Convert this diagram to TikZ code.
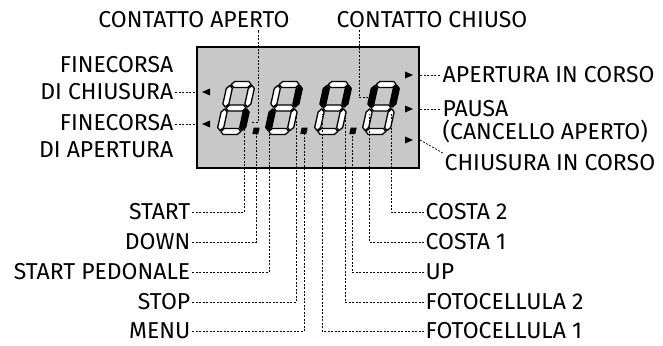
\documentclass[tikz,border=0pt]{standalone}
\usepackage{fontspec}
\setmainfont{Fira Sans}
\usetikzlibrary{calc}

\definecolor{lcdgray}{RGB}{200,200,200}

% one segment: horizontal (x1,x2,y) or vertical (x,y1,y2), last argument = style
\newcommand{\hseg}[4]{\draw[#4] (#1+1,#3) -- (#1+4,#3-3) -- (#2-4,#3-3) -- (#2-1,#3) -- (#2-4,#3+3) -- (#1+4,#3+3) -- cycle;}
\newcommand{\vseg}[4]{\draw[#4] (#1,#2+1) -- (#1+3,#2+4) -- (#1+3,#3-4) -- (#1,#3-1) -- (#1-3,#3-4) -- (#1-3,#2+4) -- cycle;}
\newcommand{\lcdsega}[1]{\hseg{-11}{11}{-23.5}{#1}}
\newcommand{\lcdsegb}[1]{\vseg{11}{-23.5}{0}{#1}}
\newcommand{\lcdsegc}[1]{\vseg{11}{0}{23.5}{#1}}
\newcommand{\lcdsegd}[1]{\hseg{-11}{11}{23.5}{#1}}
\newcommand{\lcdsege}[1]{\vseg{-11}{0}{23.5}{#1}}
\newcommand{\lcdsegf}[1]{\vseg{-11}{-23.5}{0}{#1}}
\newcommand{\lcdsegg}[1]{\hseg{-11}{11}{0}{#1}}

% digit at x = #1, unlit segments #2, lit segments #3
\newcommand{\lcddigit}[3]{%
  \begin{scope}[shift={(#1,108)}, xslant=0.22]
    \foreach \sg in {#2} {\csname lcdseg\sg\endcsname{seg}}
    \foreach \sg in {#3} {\csname lcdseg\sg\endcsname{segon}}
  \end{scope}}

\begin{document}
\begin{tikzpicture}[x=1pt, y=-1pt,
	lbl/.style={font=\fontsize{23}{27}\selectfont, inner sep=1.5pt},
	lead/.style={line width=0.7pt, dash pattern=on 2pt off 1.5pt},
	lcdbox/.style={draw, line width=2pt, fill=lcdgray, minimum width=222pt, minimum height=121pt},
	seg/.style={draw, fill=white, line width=1.3pt, line join=round},
	segon/.style={seg, fill=black}]
	\useasboundingbox (0,0) rectangle (663,345);

	% Display
	\node [lcdbox] (lcd) at (308,107.5) {};
	\lcddigit{236}{a,b,d,e,f,g}{c}
	\lcddigit{284}{a,c,d,f,g}{b,e}
	\lcddigit{333}{a,c,d,e,g}{b,f}
	\lcddigit{381}{a,c,d,e,g}{b,f}
	\foreach \x in {236,284,333}
		\fill [shift={(\x,108)}, xslant=0.22] (22,19.5) rectangle (28,26);

	% Indicators
	\coordinate (iFcChiu) at (206,92);
	\coordinate (iFcAper) at (206,124);
	\coordinate (iApe)    at (409,75);
	\coordinate (iPausa)  at (409,109);
	\coordinate (iChiu)   at (409,140);
	\foreach \i in {iFcChiu,iFcAper}
		\fill (\i) ++(-4,0) -- ++(8,-3.5) -- ++(0,7) -- cycle;
	\foreach \i in {iApe,iPausa,iChiu}
		\fill (\i) ++(4,0) -- ++(-8,-3.5) -- ++(0,7) -- cycle;

	% Labels
	\node [lbl] (lAperto) at (194,20) {CONTATTO APERTO};
	\node [lbl] (lChiuso) at (432,20) {CONTATTO CHIUSO};
	\node [lbl, align=right, anchor=east] (lFcChiu) at (175,78) {FINECORSA\\DI CHIUSURA};
	\node [lbl, align=right, anchor=east] (lFcAper) at (175,136) {FINECORSA\\DI APERTURA};
	\node [lbl, anchor=west] (lApeCorso) at (441,75) {APERTURA IN CORSO};
	\node [lbl, align=left, anchor=north west, font=\fontsize{23}{22.5}\selectfont] (lPausa) at (441,99) {PAUSA\\(CANCELLO APERTO)};
	\node [lbl, anchor=west] (lChiuCorso) at (443,163) {CHIUSURA IN CORSO};

	\node [lbl, anchor=east] (lStart) at (192,212) {START};
	\node [lbl, anchor=east] (lDown)  at (192,242) {DOWN};
	\node [lbl, anchor=east] (lPedon) at (192,272) {START PEDONALE};
	\node [lbl, anchor=east] (lStop)  at (192,302) {STOP};
	\node [lbl, anchor=east] (lMenu)  at (192,331) {MENU};
	\node [lbl, anchor=west] (lCosta2) at (424,212) {COSTA 2};
	\node [lbl, anchor=west] (lCosta1) at (424,242) {COSTA 1};
	\node [lbl, anchor=west] (lUp)     at (424,272) {UP};
	\node [lbl, anchor=west] (lFoto2)  at (424,302) {FOTOCELLULA 2};
	\node [lbl, anchor=west] (lFoto1)  at (424,331) {FOTOCELLULA 1};

	% Segment points
	\coordinate (pStart)  at (244,114);
	\coordinate (pDown)   at (256,134);
	\coordinate (pPedon)  at (269,114);
	\coordinate (pStop)   at (296,114);
	\coordinate (pMenu)   at (304,134);
	\coordinate (pFoto1)  at (322,114);
	\coordinate (pFoto2)  at (345,114);
	\coordinate (pUp)     at (352,134);
	\coordinate (pCosta1) at (369,114);
	\coordinate (pCosta2) at (391,114);
	\coordinate (kAperto) at (252,122);
	\coordinate (jAperto) at (258,122);
	\coordinate (kChiuso) at (368,97);
	\coordinate (jChiuso) at (359,97);

	% Leaders
	\draw [lead] (kAperto) -- (jAperto) -- (jAperto |- lAperto.south);
	\draw [lead] (kChiuso) -- (jChiuso) -- (jChiuso |- lChiuso.south);
	\draw [lead] (lFcChiu.east |- iFcChiu) -- (lcd.west |- iFcChiu);
	\draw [lead] (lFcAper.east |- iFcAper) -- (lcd.west |- iFcAper);
	\draw [lead] (lcd.east |- iApe) -- (lApeCorso);
	\draw [lead] (lcd.east |- iPausa) -- (lPausa.west |- iPausa);
	\draw [lead] (lcd.east |- iChiu) -- (lChiuCorso.north west);

	\draw [lead] (lStart) -| (pStart);
	\draw [lead] (lDown)  -| (pDown);
	\draw [lead] (lPedon) -| (pPedon);
	\draw [lead] (lStop)  -| (pStop);
	\draw [lead] (lMenu)  -| (pMenu);
	\draw [lead] (lCosta2) -| (pCosta2);
	\draw [lead] (lCosta1) -| (pCosta1);
	\draw [lead] (lUp)     -| (pUp);
	\draw [lead] (lFoto2)  -| (pFoto2);
	\draw [lead] (lFoto1)  -| (pFoto1);
\end{tikzpicture}
\end{document}
